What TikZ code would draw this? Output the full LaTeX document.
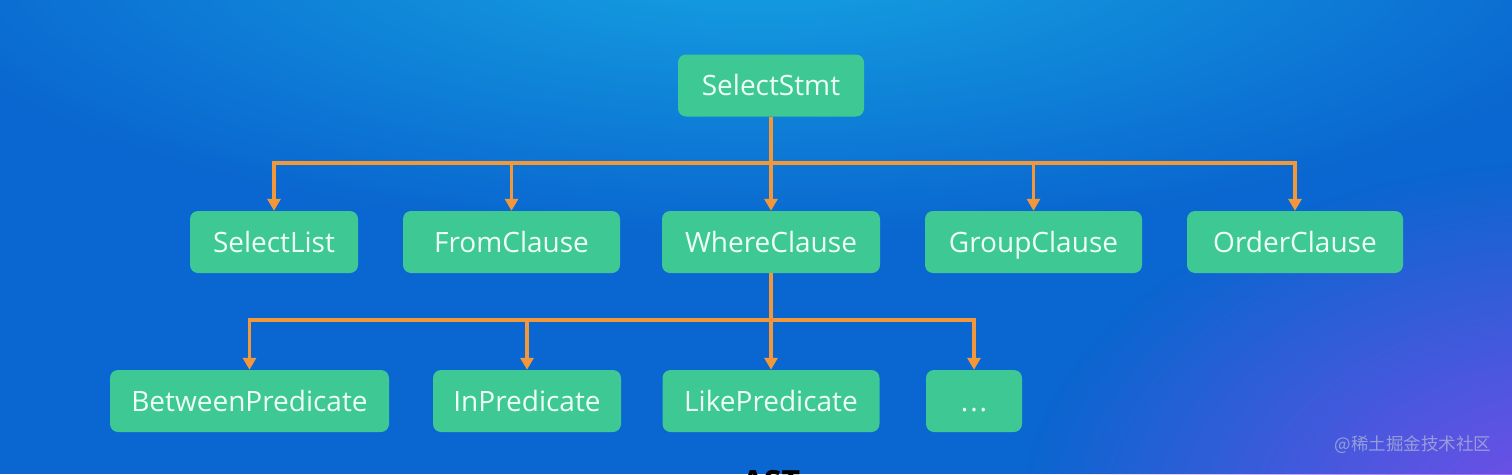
\documentclass[tikz,border=0pt]{standalone}
\usepackage{fontspec}
\setmainfont{Open Sans}
\newfontfamily\cjk{Noto Sans CJK SC}
\usetikzlibrary{arrows.meta,fadings}
\definecolor{bgblue}{HTML}{0A66D0}
\definecolor{glowblue}{HTML}{16A6E2}
\definecolor{glowpurple}{HTML}{7E4CEA}
\definecolor{nodegreen}{HTML}{3EC893}
\definecolor{nodetext}{HTML}{EEFFF7}
\definecolor{linkorange}{HTML}{F3983A}
\definecolor{wmgray}{HTML}{B4BCD8}
\tikzfading[name=glow, inner color=transparent!0, outer color=transparent!100]
\begin{document}
\begin{tikzpicture}[x=1pt,y=-1pt,
  box/.style={fill=nodegreen, rounded corners=8pt, minimum height=62pt,
    text=nodetext, font=\fontsize{28}{32}\selectfont, inner sep=0pt,
    text height=23pt, text depth=3pt},
  conn/.style={draw=linkorange, line width=3.4pt,
    -{Triangle[width=13pt,length=12pt]}}]
\useasboundingbox (0,0) rectangle (1512,474);
\clip (0,0) rectangle (1512,474);
% background
\fill[bgblue] (0,0) rectangle (1512,474);
\fill[glowblue, path fading=glow] (760,-60) ellipse [x radius=900pt, y radius=300pt];
\fill[glowpurple, path fading=glow] (1580,520) ellipse [x radius=560pt, y radius=360pt];
% nodes
\node[box, minimum width=186pt] (root) at (771,85.5) {SelectStmt};
\node[box, minimum width=168pt] (sl) at (274,242) {SelectList};
\node[box, minimum width=217pt] (fc) at (511.5,242) {FromClause};
\node[box, minimum width=218pt] (wc) at (771,242) {WhereClause};
\node[box, minimum width=217pt] (gc) at (1033.5,242) {GroupClause};
\node[box, minimum width=216pt] (oc) at (1295,242) {OrderClause};
\node[box, minimum width=279pt] (bp) at (249.5,401) {BetweenPredicate};
\node[box, minimum width=188pt] (ip) at (527,401) {InPredicate};
\node[box, minimum width=217pt] (lp) at (771,401) {LikePredicate};
\node[box, minimum width=96pt] (etc) at (974,401) {.\kern2pt.\kern2pt.};
% buses
\coordinate (b1) at (771,163);
\coordinate (b2) at (771,320);
\foreach \c in {sl,fc,wc,gc,oc}
  \draw[conn] (root.south) -- (b1) -| (\c.north);
\foreach \c in {bp,ip,lp,etc}
  \draw[conn] (wc.south) -- (b2) -| (\c.north);
% labels
\node[font=\fontsize{32}{36}\selectfont\bfseries, text=black] (ast) at (771,482) {AST};
\node[anchor=east, font=\cjk\fontsize{17.5}{20}\selectfont, text=wmgray, opacity=0.7] (wm) at (1495,445) {@稀土掘金技术社区};
\end{tikzpicture}
\end{document}
